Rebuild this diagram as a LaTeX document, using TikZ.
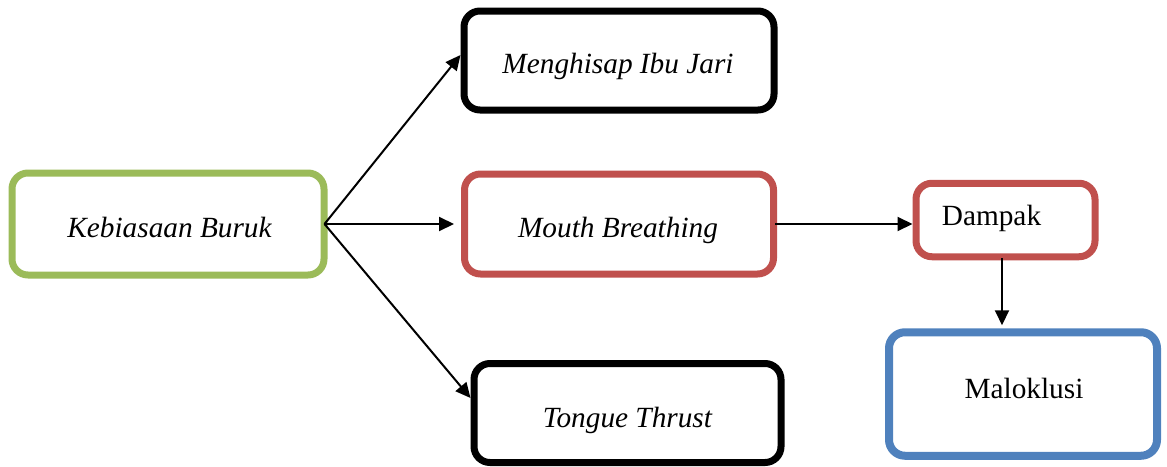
\documentclass[tikz,border=0pt]{standalone}
\usepackage{fontspec}
\setmainfont{Liberation Serif}
\usetikzlibrary{arrows.meta}
\definecolor{ogreen}{HTML}{9BBB59}
\definecolor{ored}{HTML}{C0504D}
\definecolor{oblue}{HTML}{4F81BD}
\tikzset{
  box/.style={draw, rounded corners=16pt, line width=7pt, inner sep=0pt},
  conn/.style={line width=2pt, -{Triangle[length=15pt,width=14pt]}},
  lbl/.style={inner sep=0pt, anchor=base, font=\fontsize{29.3}{33}\selectfont}
}
\begin{document}
\begin{tikzpicture}[x=1pt,y=-1pt]
\useasboundingbox (0,0) rectangle (1167,466);
\node[box, draw=ogreen, minimum width=312pt, minimum height=102pt] (kb) at (168,224) {};
\node[box, draw=black, minimum width=310pt, minimum height=99pt] (mij) at (619,60.5) {};
\node[box, draw=ored, minimum width=309pt, minimum height=100pt] (mb) at (619,224) {};
\node[box, draw=black, minimum width=307pt, minimum height=99pt] (tt) at (627.5,413) {};
\node[box, draw=ored, minimum width=179pt, minimum height=73.5pt] (dp) at (1005.5,220) {};
\node[box, draw=oblue, line width=8pt, minimum width=268pt, minimum height=123.5pt] (ml) at (1023,394) {};
\node[lbl] (kbt) at (169.5,237) {\itshape Kebiasaan Buruk};
\node[lbl] (mijt) at (618,73) {\itshape Menghisap Ibu Jari};
\node[lbl] (mbt) at (618,237) {\itshape Mouth Breathing};
\node[lbl] (ttt) at (627.5,427) {\itshape Tongue Thrust};
\node[lbl] (dpt) at (991.5,225) {Dampak};
\node[lbl] (mlt) at (1024,398) {Maloklusi};
\draw[conn] ([xshift=-3pt]kb.east) -- ([yshift=5.5pt]mij.west);
\draw[conn, shorten >=7pt] ([xshift=-3pt]kb.east) -- (mb.west);
\draw[conn] ([xshift=-3pt]kb.east) -- ([yshift=15pt]tt.west);
\draw[conn] ([xshift=-2pt]mb.east) -- (dp.west |- mb.east);
\draw[conn, shorten >=3pt] ([xshift=-3.5pt,yshift=2pt]dp.south) -- ([xshift=-3.5pt]dp.south |- ml.north);
\end{tikzpicture}
\end{document}
